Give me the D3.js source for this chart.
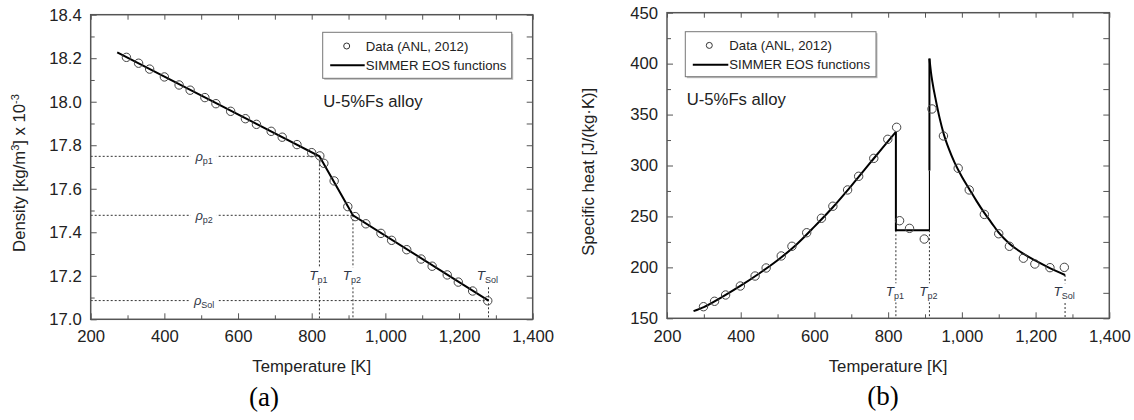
<!DOCTYPE html>
<html><head><meta charset="utf-8">
<script src="https://cdn.jsdelivr.net/npm/d3@7"></script>
<style>
body{margin:0;background:#fff}
svg{display:block;font-family:"Liberation Sans",Arial,sans-serif}
</style>
</head><body>
<svg id="c" width="1134" height="420"></svg>
<script>
// ---------- data ----------
const xMajorTicks = [200, 400, 600, 800, 1000, 1200, 1400];
const xMinorTicks = [300, 500, 700, 900, 1100, 1300];
const densityMajorTicks = [17.0, 17.2, 17.4, 17.6, 17.8, 18.0, 18.2, 18.4];
const densityMinorTicks = [17.1, 17.3, 17.5, 17.7, 17.9, 18.1, 18.3];
const cpMajorTicks = [150, 200, 250, 300, 350, 400, 450];
const cpMinorTicks = [175, 225, 275, 325, 375, 425];

const densityDataT = [297, 330, 360, 400, 440, 470, 510, 540, 580, 620, 650, 690, 720, 760, 800, 822, 833, 861, 898, 918, 947, 988, 1017, 1058, 1097, 1127, 1168, 1198, 1237, 1278];
const densityDataRho = [18.204, 18.177, 18.150, 18.114, 18.077, 18.053, 18.019, 17.991, 17.956, 17.922, 17.896, 17.864, 17.837, 17.803, 17.766, 17.751, 17.717, 17.636, 17.518, 17.472, 17.439, 17.395, 17.363, 17.320, 17.277, 17.244, 17.204, 17.171, 17.130, 17.085];
const densityFitT = [272, 821, 912, 1280];
const densityFitRho = [18.227, 17.749, 17.478, 17.086];

const cpDataT = [299, 329, 359, 399, 439, 469, 510, 539, 579, 619, 650, 690, 720, 761, 799, 823, 831, 858, 898, 919, 950, 990, 1020, 1061, 1100, 1129, 1167, 1198, 1239, 1278];
const cpDataVal = [161.4, 166.7, 172.9, 181.7, 191.5, 199.4, 211.2, 220.7, 234, 248.2, 260, 276, 289.4, 307, 325.7, 337.5, 245.8, 238.3, 227.8, 355.5, 329, 297.3, 276, 252, 233, 220.7, 209, 203.3, 199.7, 200];
const cpFitLowT = [272, 300, 350, 400, 450, 500, 550, 600, 650, 700, 750, 800, 821];
const cpFitLowVal = [157, 161, 171, 182, 194, 207, 222, 240, 259, 280, 302, 324, 333];
const cpPlateauT = [821, 821, 912];
const cpPlateauVal = [333, 236.5, 236.5];
const cpJumpThinVal = [236.5, 295];
const cpJumpThickVal = [295, 405];
const cpFitHighT = [912, 916, 920, 930, 940, 950, 965, 980, 1000, 1020, 1040, 1060, 1080, 1100, 1130, 1160, 1200, 1240, 1280];
const cpFitHighVal = [405, 392, 382, 363, 346, 332, 316, 303, 289, 277, 265, 254, 244, 234, 223, 215, 206.5, 199, 192.5];

const transT = [821, 912, 1280];
const transSub = ["p1", "p2", "Sol"];
const transRho = [17.749, 17.478, 17.086];
const transCpTop = [236.5, 236.5, 192.5];

const legendLabels = ["Data (ANL, 2012)", "SIMMER EOS functions"];
const alloyLabel = "U-5%Fs alloy";
const xTitle = "Temperature [K]";
const panelLabels = ["(a)", "(b)"];

// ---------- drawing ----------
const svg = d3.select("#c");
const FONT = 16.7;
const axisColor = "#555";
const textColor = "#222";
const labColor = "#2f3646";

function drawAxes(g, x, y, yMaj, yMin, yFmt, padX) {
  const [x0, x1] = x.range();
  const [y0, y1] = y.range();
  const style = sel => {
    sel.select(".domain").remove();
    sel.selectAll(".tick line").attr("stroke", axisColor).attr("stroke-width", 1);
    sel.selectAll(".tick text").attr("fill", textColor).attr("font-size", FONT)
      .attr("font-family", '"Liberation Sans",Arial,sans-serif');
  };
  g.append("g").attr("transform", `translate(0,${y0})`)
    .call(d3.axisBottom(x).tickValues(xMajorTicks).tickSize(-6).tickPadding(padX).tickFormat(d3.format(","))).call(style);
  g.append("g").attr("transform", `translate(0,${y0})`)
    .call(d3.axisBottom(x).tickValues(xMinorTicks).tickSize(-4).tickFormat("")).call(style);
  g.append("g").attr("transform", `translate(0,${y1})`)
    .call(d3.axisTop(x).tickValues(xMajorTicks.concat(xMinorTicks)).tickSize(-5).tickFormat("")).call(style);
  g.append("g").attr("transform", `translate(${x0},0)`)
    .call(d3.axisLeft(y).tickValues(yMaj).tickSize(-6).tickPadding(9).tickFormat(yFmt)).call(style);
  g.append("g").attr("transform", `translate(${x0},0)`)
    .call(d3.axisLeft(y).tickValues(yMin).tickSize(-4).tickFormat("")).call(style);
  g.append("g").attr("transform", `translate(${x1},0)`)
    .call(d3.axisRight(y).tickValues(yMaj.concat(yMin)).tickSize(-6).tickFormat("")).call(style);
  g.append("rect").attr("x", x0).attr("y", y1).attr("width", x1 - x0).attr("height", y0 - y1)
    .attr("fill", "none").attr("stroke", axisColor).attr("stroke-width", 1.5);
}

function dotted(g, xa, ya, xb, yb) {
  g.append("line").attr("x1", xa).attr("y1", ya).attr("x2", xb).attr("y2", yb)
    .attr("stroke", "#333").attr("stroke-width", 1).attr("stroke-dasharray", "2,2");
}

function subLabel(g, cx, cy, main, sub, mainSize) {
  const t = g.append("text").attr("x", cx).attr("y", cy).attr("text-anchor", "middle")
    .attr("fill", labColor).attr("font-size", mainSize);
  t.append("tspan").attr("font-style", "italic").text(main);
  t.append("tspan").attr("font-size", 9).attr("dy", 3).text(sub);
  const bb = t.node().getBBox();
  g.insert("rect", () => t.node()).attr("x", bb.x - 4).attr("y", bb.y - 1)
    .attr("width", bb.width + 8).attr("height", bb.height + 2).attr("fill", "#fff");
  return t;
}

function legend(g, lx, ly, w, h, textX) {
  g.append("rect").attr("x", lx + 1.5).attr("y", ly + 1.5).attr("width", w).attr("height", h)
    .attr("fill", "#bbb");
  g.append("rect").attr("x", lx).attr("y", ly).attr("width", w).attr("height", h)
    .attr("fill", "#fff").attr("stroke", "#777").attr("stroke-width", 1);
  g.append("circle").attr("cx", lx + 24).attr("cy", ly + 13.7).attr("r", 3)
    .attr("fill", "none").attr("stroke", "#333").attr("stroke-width", 1);
  g.append("line").attr("x1", lx + 7.5).attr("x2", textX - 1).attr("y1", ly + 33).attr("y2", ly + 33)
    .attr("stroke", "#000").attr("stroke-width", 2);
  legendLabels.forEach((s, i) => {
    g.append("text").attr("x", textX).attr("y", ly + 18.3 + i * 19.3)
      .attr("font-size", 13.2).attr("fill", textColor).text(s);
  });
}

function titles(g, x, yTitleX, yTitleY, yTitleNode, xTitleBase, panelX, panelBase, panelLab) {
  const [x0, x1] = x.range();
  g.append("text").attr("x", (x0 + x1) / 2).attr("y", xTitleBase).attr("text-anchor", "middle")
    .attr("font-size", FONT).attr("fill", textColor).text(xTitle);
  yTitleNode(g.append("text").attr("transform", `translate(${yTitleX},${yTitleY}) rotate(-90)`)
    .attr("text-anchor", "middle").attr("font-size", FONT).attr("fill", textColor));
  g.append("text").attr("x", panelX).attr("y", panelBase).attr("text-anchor", "middle")
    .attr("font-family", '"Liberation Serif","Times New Roman",serif').attr("font-size", 27)
    .attr("fill", "#000").text(panelLab);
}

// ----- panel (a): density -----
{
  const g = svg.append("g");
  const x = d3.scaleLinear().domain([200, 1400]).range([90.7, 532.7]);
  const y = d3.scaleLinear().domain([17.0, 18.4]).range([319.3, 14.7]);
  const [x0] = x.range();
  const yb = y.range()[0];
  const labY = yb - 44;

  transT.forEach((t, i) => {
    dotted(g, x0, y(transRho[i]), x(t), y(transRho[i]));
    dotted(g, x(t), Math.min(y(transRho[i]), labY), x(t), yb);
  });
  transT.forEach((t, i) => {
    subLabel(g, x(508), y(transRho[i]) + 4.5, "ρ", transSub[i], 13);
    subLabel(g, x(t) - 1, labY + 5, "T", transSub[i], 13.5);
  });

  drawAxes(g, x, y, densityMajorTicks, densityMinorTicks, d3.format(".1f"), 11);

  g.append("path").datum(densityFitT.map((t, i) => [t, densityFitRho[i]]))
    .attr("d", d3.line().x(d => x(d[0])).y(d => y(d[1])))
    .attr("fill", "none").attr("stroke", "#000").attr("stroke-width", 2);
  g.selectAll("circle.pt").data(densityDataT.map((t, i) => [t, densityDataRho[i]])).join("circle")
    .attr("class", "pt").attr("cx", d => x(d[0])).attr("cy", d => y(d[1])).attr("r", 4.2)
    .attr("fill", "none").attr("stroke", "#444").attr("stroke-width", 1);

  legend(g, 322.7, 32.3, 189, 46, 365.7);
  g.append("text").attr("x", 323.3).attr("y", 107.3).attr("font-size", FONT).attr("fill", textColor).text(alloyLabel);

  titles(g, x, 25, 173, t => {
    t.append("tspan").text("Density [kg/m");
    t.append("tspan").attr("font-size", 11).attr("dy", -6).text("3");
    t.append("tspan").attr("dy", 6).text("] x 10");
    t.append("tspan").attr("font-size", 11).attr("dy", -6).text("-3");
  }, 371.7, 264, 406, panelLabels[0]);
}

// ----- panel (b): specific heat -----
{
  const g = svg.append("g");
  const x = d3.scaleLinear().domain([200, 1400]).range([667, 1109.3]);
  const y = d3.scaleLinear().domain([150, 450]).range([318.3, 12.7]);
  const yb = y.range()[0];
  const labY = yb - 27;

  transT.forEach((t, i) => {
    dotted(g, x(t), y(transCpTop[i]), x(t), yb);
  });
  transT.forEach((t, i) => {
    subLabel(g, x(t) - 1, labY + 5, "T", transSub[i], 13.5);
  });

  drawAxes(g, x, y, cpMajorTicks, cpMinorTicks, d3.format("d"), 12);

  const line = d3.line().x(d => x(d[0])).y(d => y(d[1]));
  const thick = (pts, curve, w) => g.append("path").datum(pts)
    .attr("d", curve ? line.curve(curve)(pts) : d3.line().x(d => x(d[0])).y(d => y(d[1]))(pts))
    .attr("fill", "none").attr("stroke", "#000").attr("stroke-width", w).attr("stroke-linejoin", "miter");
  thick(cpFitLowT.map((t, i) => [t, cpFitLowVal[i]]), d3.curveMonotoneX, 2);
  thick(cpPlateauT.map((t, i) => [t, cpPlateauVal[i]]), null, 2);
  thick(cpJumpThinVal.map(v => [cpPlateauT[2], v]), null, 1.2);
  thick(cpJumpThickVal.map(v => [cpPlateauT[2], v]), null, 2);
  thick(cpFitHighT.map((t, i) => [t, cpFitHighVal[i]]), d3.curveMonotoneX, 2);

  g.selectAll("circle.pt").data(cpDataT.map((t, i) => [t, cpDataVal[i]])).join("circle")
    .attr("class", "pt").attr("cx", d => x(d[0])).attr("cy", d => y(d[1])).attr("r", 4.2)
    .attr("fill", "none").attr("stroke", "#444").attr("stroke-width", 1);

  legend(g, 685.3, 31.7, 190.7, 45, 729.3);
  g.append("text").attr("x", 686.7).attr("y", 105).attr("font-size", FONT).attr("fill", textColor).text(alloyLabel);

  titles(g, x, 593.5, 171.7, t => {
    t.text("Specific heat [J/(kg·K)]");
  }, 371.7, 883, 405, panelLabels[1]);
}
</script>
</body></html>
